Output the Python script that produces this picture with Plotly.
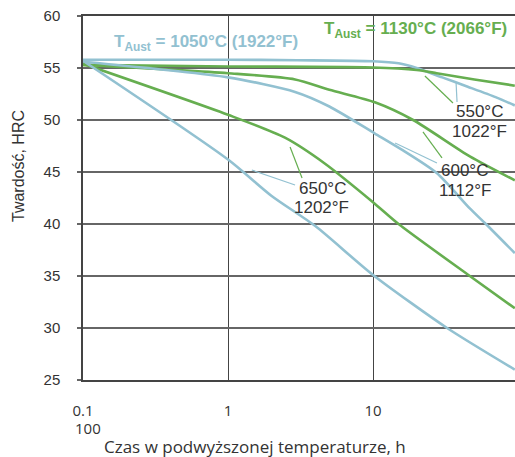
import numpy as np
import plotly.graph_objects as go

# ---- data (hours, HRC) ----
b550_x = [0.1, 1, 3, 10, 15, 20, 30, 45, 70, 95]
b550_y = [55.8, 55.8, 55.75, 55.65, 55.45, 55.0, 54.1, 53.2, 52.2, 51.4]
g550_x = [0.1, 1, 10, 20, 27.5, 50, 95]
g550_y = [55.3, 55.15, 55.05, 54.8, 54.5, 53.9, 53.3]
g600_x = [0.1, 1, 2.9, 5, 10.3, 18.9, 46.5, 95]
g600_y = [55.3, 54.5, 53.9, 52.9, 51.7, 50.0, 46.5, 44.2]
b600_x = [0.1, 1, 2.9, 5, 10.3, 16, 27.5, 46.5, 60, 95]
b600_y = [55.6, 54.1, 52.7, 51.3, 48.7, 47.1, 44.9, 41.5, 40.0, 37.2]
g650_x = [0.1, 1, 2.47, 4.67, 10, 15, 46.5, 95]
g650_y = [55.4, 50.5, 48.3, 45.8, 42.1, 40.0, 35.0, 31.9]
b650_x = [0.1, 1, 2, 4, 10, 32.4, 95]
b650_y = [55.7, 46.2, 42.7, 39.8, 35.1, 30.0, 26.0]

y_ticks = [25, 30, 35, 40, 45, 50, 55, 60]
x_ticks = [0.1, 1, 10]
x_ticktext = ["0.1", "1", "10"]

# leader lines: (x0, y0, x1, y1), colour key
leaders = [
    ((22.8, 54.23, 35.6, 51.63), "g"),
    ((37.4, 53.56, 37.97, 51.73), "b"),
    ((22.1, 48.85, 29.9, 46.35), "g"),
    ((14.2, 47.79, 27.6, 45.87), "b"),
    ((2.68, 47.4, 3.24, 44.42), "g"),
    ((1.46, 45.19, 2.90, 43.75), "b"),
]

BLUE = "#92c1d1"
GREEN = "#66ae50"
TXT = "#333333"

W, H = 515, 457
L, R, T, B = 83, 515, 16, 380   # plot box in pixels


def px(xp):
    return (xp - L) / (R - L)


def py(yp):
    return (B - yp) / (B - T)


fig = go.Figure()

for xs, ys, c in [
    (b550_x, b550_y, BLUE), (g550_x, g550_y, GREEN),
    (g600_x, g600_y, GREEN), (b600_x, b600_y, BLUE),
    (g650_x, g650_y, GREEN), (b650_x, b650_y, BLUE),
]:
    fig.add_trace(go.Scatter(x=xs, y=ys, mode="lines",
                             line=dict(color=c, width=2.6, shape="spline", smoothing=0.7),
                             hoverinfo="skip", showlegend=False))

for (x0, y0, x1, y1), k in leaders:
    fig.add_trace(go.Scatter(x=[x0, x1], y=[y0, y1], mode="lines",
                             line=dict(color=GREEN if k == "g" else BLUE, width=1.2),
                             hoverinfo="skip", showlegend=False))

ann = []
lab_font = dict(family="Liberation Sans, Arial", size=17, color=TXT)
for text, cx, cy in [("550°C", 479, 112), ("1022°F", 479, 131),
                     ("600°C", 464, 170), ("1112°F", 465, 190),
                     ("650°C", 322, 188), ("1202°F", 321, 207)]:
    ann.append(dict(text=text, x=px(cx), y=py(cy), xref="paper", yref="paper",
                    xanchor="center", yanchor="middle", showarrow=False, font=lab_font))

ann.append(dict(text="T<sub>Aust</sub> = 1050°C (1922°F)", x=px(112), y=py(43),
                xref="paper", yref="paper", xanchor="left", yanchor="middle",
                showarrow=False, font=dict(family="Liberation Sans, Arial", size=17, color=BLUE, weight="bold")))
ann.append(dict(text="T<sub>Aust</sub> = 1130°C (2066°F)", x=px(322), y=py(30),
                xref="paper", yref="paper", xanchor="left", yanchor="middle",
                showarrow=False, font=dict(family="Liberation Sans, Arial", size=17, color=GREEN, weight="bold")))

ann.append(dict(text="100", x=px(73), y=py(428), xref="paper", yref="paper",
                xanchor="left", yanchor="middle", showarrow=False,
                font=dict(family="Open Sans", size=15, color=TXT)))
ann.append(dict(text="Czas w podwyższonej temperaturze, h", x=px(255), y=py(446),
                xref="paper", yref="paper", xanchor="center", yanchor="middle", showarrow=False,
                font=dict(family="Open Sans", size=17, color=TXT)))
ann.append(dict(text="Twardość, HRC", x=px(18), y=py(166), xref="paper", yref="paper",
                xanchor="center", yanchor="middle", showarrow=False, textangle=-90,
                font=dict(family="Liberation Sans, Arial", size=16, color=TXT)))

fig.update_layout(
    width=W, height=H,
    margin=dict(l=L, r=W - R, t=T, b=H - B, pad=0),
    paper_bgcolor="white", plot_bgcolor="white",
    annotations=ann,
    xaxis=dict(type="log", range=[-1, np.log10(95.3)], tickvals=x_ticks, ticktext=x_ticktext,
               showgrid=True, gridcolor="#444444", gridwidth=1,
               showline=True, linecolor="#444444", linewidth=1.5, mirror=True,
               ticks="", ticklabelstandoff=16, ticklabeloverflow="allow",
               tickfont=dict(family="Open Sans", size=15, color=TXT), zeroline=False),
    yaxis=dict(range=[25, 60], tickvals=y_ticks, showgrid=True, gridcolor="#666666", gridwidth=1.5,
               showline=True, linecolor="#444444", linewidth=1.5,
               ticks="outside", ticklen=4, tickcolor="#666666", tickwidth=1.5,
               ticklabelstandoff=14, ticklabeloverflow="allow",
               tickfont=dict(family="Liberation Sans, Arial", size=15, color=TXT), zeroline=False),
)

fig.write_html("out.html", config={"displayModeBar": False},
               post_script="document.body.style.margin='0';document.body.style.overflow='hidden';")
